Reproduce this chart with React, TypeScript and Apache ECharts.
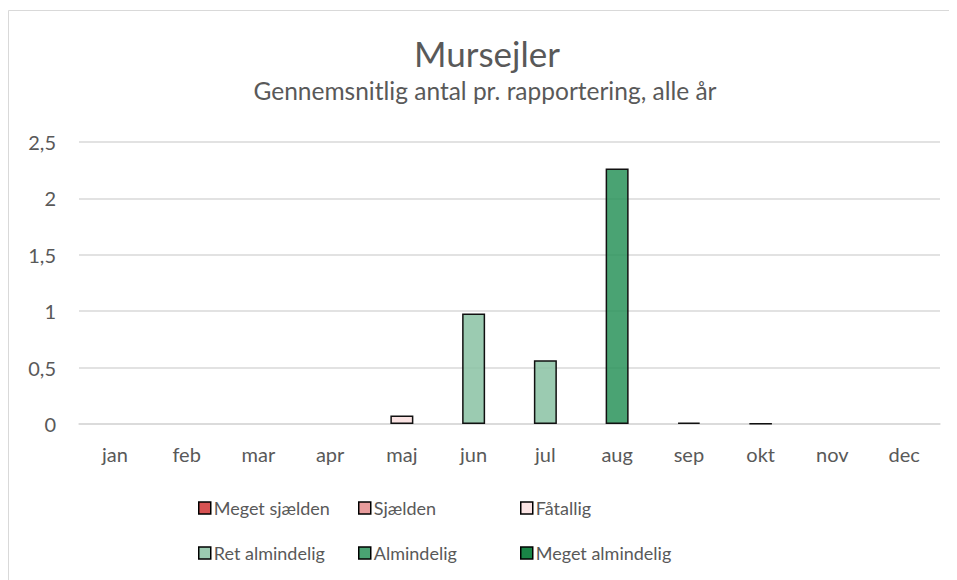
import React, { useEffect, useRef } from "react";
import * as echarts from "echarts";

const months = ["jan", "feb", "mar", "apr", "maj", "jun", "jul", "aug", "sep", "okt", "nov", "dec"];
const seriesNames = ["Meget sjælden", "Sjælden", "Fåtallig", "Ret almindelig", "Almindelig", "Meget almindelig"];
const seriesColors = [
  "rgba(208,52,52,0.85)",
  "rgba(228,139,139,0.85)",
  "rgba(250,223,223,0.85)",
  "rgba(137,194,163,0.85)",
  "rgba(42,147,90,0.85)",
  "rgba(0,120,50,0.9)",
];
// values per category (null = no bar)
const megetSjaelden: (number | null)[] = [null, null, null, null, null, null, null, null, null, null, null, null];
const sjaelden: (number | null)[] = [null, null, null, null, null, null, null, null, null, null, null, null];
const faatallig: (number | null)[] = [null, null, null, null, 0.075, null, null, null, 0.012, 0.004, null, null];
const retAlmindelig: (number | null)[] = [null, null, null, null, null, 0.98, 0.565, null, null, null, null, null];
const almindelig: (number | null)[] = [null, null, null, null, null, null, null, 2.265, null, null, null, null];
const megetAlmindelig: (number | null)[] = [null, null, null, null, null, null, null, null, null, null, null, null];
const seriesData = [megetSjaelden, sjaelden, faatallig, retAlmindelig, almindelig, megetAlmindelig];

const titleText = "Mursejler";
const subtitleText = "Gennemsnitlig antal pr. rapportering, alle år";

const FONT = "Lato, 'Noto Sans', sans-serif";
const GREY = "#595959";

export default function App() {
  const ref = useRef<HTMLDivElement>(null);
  useEffect(() => {
    document.documentElement.style.overflow = "hidden";
    const chart = echarts.init(ref.current!, undefined, { renderer: "svg" });
    const legendPos = [
      [190, 491],
      [350, 491],
      [512, 491],
      [190, 536],
      [350, 536],
      [512, 536],
    ];
    chart.setOption({
      animation: false,
      textStyle: { fontFamily: FONT },
      graphic: [
        {
          type: "rect",
          shape: { x: 0.5, y: 2.5, width: 1200, height: 800 },
          style: { fill: "none", stroke: "#D9D9D9", lineWidth: 1 },
          silent: true,
        },
        {
          type: "text",
          x: 479,
          y: 45,
          style: {
            text: titleText,
            fontSize: 35,
            fontFamily: FONT,
            fill: GREY,
            textAlign: "center",
            textVerticalAlign: "middle",
          },
        },
        {
          type: "text",
          x: 477,
          y: 82,
          style: {
            text: subtitleText,
            fontSize: 24.5,
            fontFamily: FONT,
            fill: GREY,
            textAlign: "center",
            textVerticalAlign: "middle",
          },
        },
      ],
      legend: seriesNames.map((n, i) => ({
        data: [n],
        left: legendPos[i][0],
        top: legendPos[i][1],
        itemWidth: 12,
        itemHeight: 12,
        icon: "rect",
        padding: 0,
        selectedMode: false,
        textStyle: { fontSize: 18, color: GREY, fontFamily: FONT, padding: [0, 0, 0, -2] },
        itemStyle: { borderColor: "#000", borderWidth: 1.5 },
      })),
      grid: { left: 71, right: 9, top: 134, bottom: 156 },
      xAxis: {
        type: "category",
        data: months,
        axisLine: { lineStyle: { color: "#D9D9D9", width: 1.5 } },
        axisTick: { show: false },
        axisLabel: { color: GREY, fontSize: 20, margin: 20, fontFamily: FONT },
      },
      yAxis: {
        type: "value",
        min: 0,
        max: 2.5,
        interval: 0.5,
        axisLine: { show: false },
        axisTick: { show: false },
        splitLine: { lineStyle: { color: "#D9D9D9", width: 1.5 } },
        axisLabel: {
          color: GREY,
          fontSize: 20,
          margin: 23,
          fontFamily: FONT,
          formatter: (v: number) => String(v).replace(".", ","),
        },
      },
      series: seriesNames.map((n, i) => ({
        name: n,
        type: "bar",
        stack: "total",
        barWidth: 23,
        data: seriesData[i],
        itemStyle: { color: seriesColors[i], borderColor: "#111", borderWidth: 1.5 },
      })),
    });
    return () => chart.dispose();
  }, []);
  return <div ref={ref} style={{ width: 941, height: 572 }} />;
}
